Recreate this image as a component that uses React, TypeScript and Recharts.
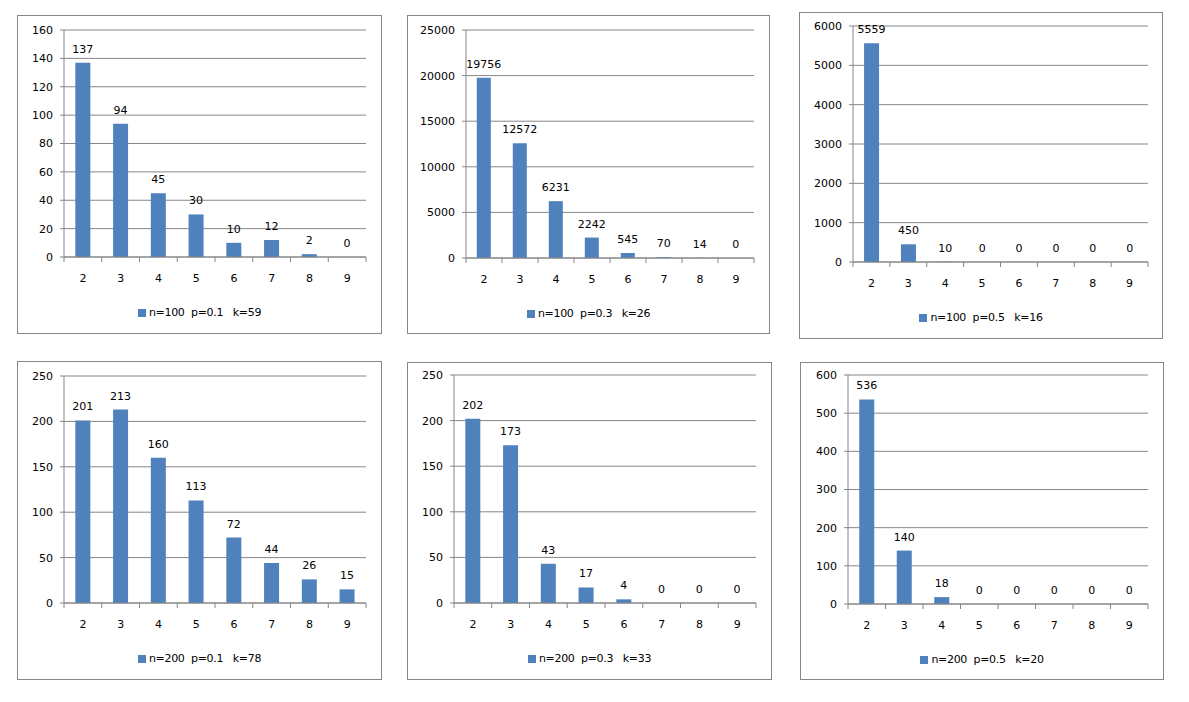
import React from "react";
import { BarChart, Bar, XAxis, YAxis, CartesianGrid, LabelList, Legend } from "recharts";

const categories = ["2", "3", "4", "5", "6", "7", "8", "9"];

const counts100p01 = [137, 94, 45, 30, 10, 12, 2, 0];
const counts100p03 = [19756, 12572, 6231, 2242, 545, 70, 14, 0];
const counts100p05 = [5559, 450, 10, 0, 0, 0, 0, 0];
const counts200p01 = [201, 213, 160, 113, 72, 44, 26, 15];
const counts200p03 = [202, 173, 43, 17, 4, 0, 0, 0];
const counts200p05 = [536, 140, 18, 0, 0, 0, 0, 0];

const legendNames = [
    "n=100  p=0.1   k=59",
    "n=100  p=0.3   k=26",
    "n=100  p=0.5   k=16",
    "n=200  p=0.1   k=78",
    "n=200  p=0.3   k=33",
    "n=200  p=0.5   k=20",
];

const yTicks1 = [0, 20, 40, 60, 80, 100, 120, 140, 160];
const yTicks2 = [0, 5000, 10000, 15000, 20000, 25000];
const yTicks3 = [0, 1000, 2000, 3000, 4000, 5000, 6000];
const yTicks4 = [0, 50, 100, 150, 200, 250];
const yTicks5 = [0, 50, 100, 150, 200, 250];
const yTicks6 = [0, 100, 200, 300, 400, 500, 600];

const BAR = "#4f81bd";
const GREY = "#868686";
const FONT = "'DejaVu Sans', Verdana, sans-serif";
const FS = 11;
const LEGEND_H = 20;
const AXIS_H = 46;
const X_TICK_GAP = 17;

// page coordinates: outer box and plot area
const panels = [
    { values: counts100p01, ticks: yTicks1, name: legendNames[0], box: { x: 17, y: 15, w: 365, h: 319 }, plot: { l: 64, t: 30, r: 366, b: 257 } },
    { values: counts100p03, ticks: yTicks2, name: legendNames[1], box: { x: 407, y: 15, w: 363, h: 319 }, plot: { l: 466, t: 30, r: 754, b: 258 } },
    { values: counts100p05, ticks: yTicks3, name: legendNames[2], box: { x: 799, y: 12, w: 364, h: 327 }, plot: { l: 853, t: 26, r: 1148, b: 262 } },
    { values: counts200p01, ticks: yTicks4, name: legendNames[3], box: { x: 17, y: 361, w: 365, h: 319 }, plot: { l: 64, t: 376, r: 366, b: 603 } },
    { values: counts200p03, ticks: yTicks5, name: legendNames[4], box: { x: 407, y: 362, w: 365, h: 318 }, plot: { l: 454, t: 375, r: 756, b: 603 } },
    { values: counts200p05, ticks: yTicks6, name: legendNames[5], box: { x: 800, y: 362, w: 364, h: 318 }, plot: { l: 848, t: 375, r: 1148, b: 604 } },
];

function LegendBox({ payload }: any) {
    return (
        <div style={{ height: LEGEND_H, lineHeight: `${LEGEND_H}px`, textAlign: "center", fontFamily: FONT, fontSize: FS, color: "#000" }}>
            {(payload || []).map((p: any) => (
                <span key={p.value} style={{ whiteSpace: "pre", letterSpacing: "-0.3px" }}>
                    <span style={{ display: "inline-block", width: 8, height: 8, background: BAR, marginRight: 3, verticalAlign: "-1px" }} />
                    {p.value}
                </span>
            ))}
        </div>
    );
}

function ValueLabel(props: any) {
    const { x, y, width, value } = props;
    return (
        <text x={Number(x) + Number(width) / 2} y={Number(y) - 10} textAnchor="middle" fill="#000" fontSize={FS} fontFamily={FONT}>
            {value}
        </text>
    );
}

// category label plus Excel-style tick marks on the category boundaries
function CatTick(props: any) {
    const { x, y, payload, index, visibleTicksCount } = props;
    const half = payload?.offset ?? 0;
    const axisY = y - X_TICK_GAP;
    const last = index === visibleTicksCount - 1;
    return (
        <g>
            <line x1={x - half} x2={x - half} y1={axisY} y2={axisY + 5} stroke={GREY} />
            {last && <line x1={x + half} x2={x + half} y1={axisY} y2={axisY + 5} stroke={GREY} />}
            <text x={x} y={y} dy="0.71em" textAnchor="middle" fill="#000" fontSize={FS} fontFamily={FONT}>
                {payload?.value}
            </text>
        </g>
    );
}

function Panel({ values, ticks, name, box, plot }: (typeof panels)[number]) {
    const rows = categories.map((c, i) => ({ cat: c, value: values[i] }));
    const cx = box.x + 1;
    const cy = box.y + 1;
    const cw = box.w - 2;
    const ch = box.h - 2;
    const yAxisW = plot.l - cx;
    const margin = {
        top: plot.t - cy,
        left: 0,
        right: cx + cw - plot.r,
        bottom: cy + ch - (plot.b + AXIS_H + LEGEND_H),
    };

    return (
        <div style={{ position: "absolute", left: box.x, top: box.y, width: box.w, height: box.h, border: `1px solid ${GREY}`, boxSizing: "border-box", background: "#fff" }}>
            <BarChart width={cw} height={ch} data={rows} margin={margin} barCategoryGap="30%" style={{ fontFamily: FONT }}>
                <CartesianGrid vertical={false} stroke={GREY} strokeWidth={1} />
                <XAxis
                    dataKey="cat"
                    axisLine={{ stroke: GREY }}
                    tickLine={false}
                    tickSize={0}
                    tickMargin={X_TICK_GAP}
                    height={AXIS_H}
                    interval={0}
                    tick={<CatTick />}
                />
                <YAxis
                    domain={[0, ticks[ticks.length - 1]]}
                    ticks={ticks}
                    interval={0}
                    width={yAxisW}
                    tickSize={4}
                    tickMargin={7}
                    axisLine={{ stroke: GREY }}
                    tickLine={{ stroke: GREY }}
                    tick={{ fill: "#000", fontSize: FS }}
                />
                <Legend verticalAlign="bottom" align="center" wrapperStyle={{ left: 0, width: cw }} content={<LegendBox />} />
                <Bar dataKey="value" name={name} fill={BAR} minPointSize={0.01} isAnimationActive={false}>
                    <LabelList dataKey="value" content={ValueLabel} />
                </Bar>
            </BarChart>
        </div>
    );
}

export default function App() {
    return (
        <div style={{ position: "absolute", left: 0, top: 0, width: 1189, height: 702, background: "#fff" }}>
            {panels.map((p, i) => (
                <Panel key={i} {...p} />
            ))}
        </div>
    );
}
